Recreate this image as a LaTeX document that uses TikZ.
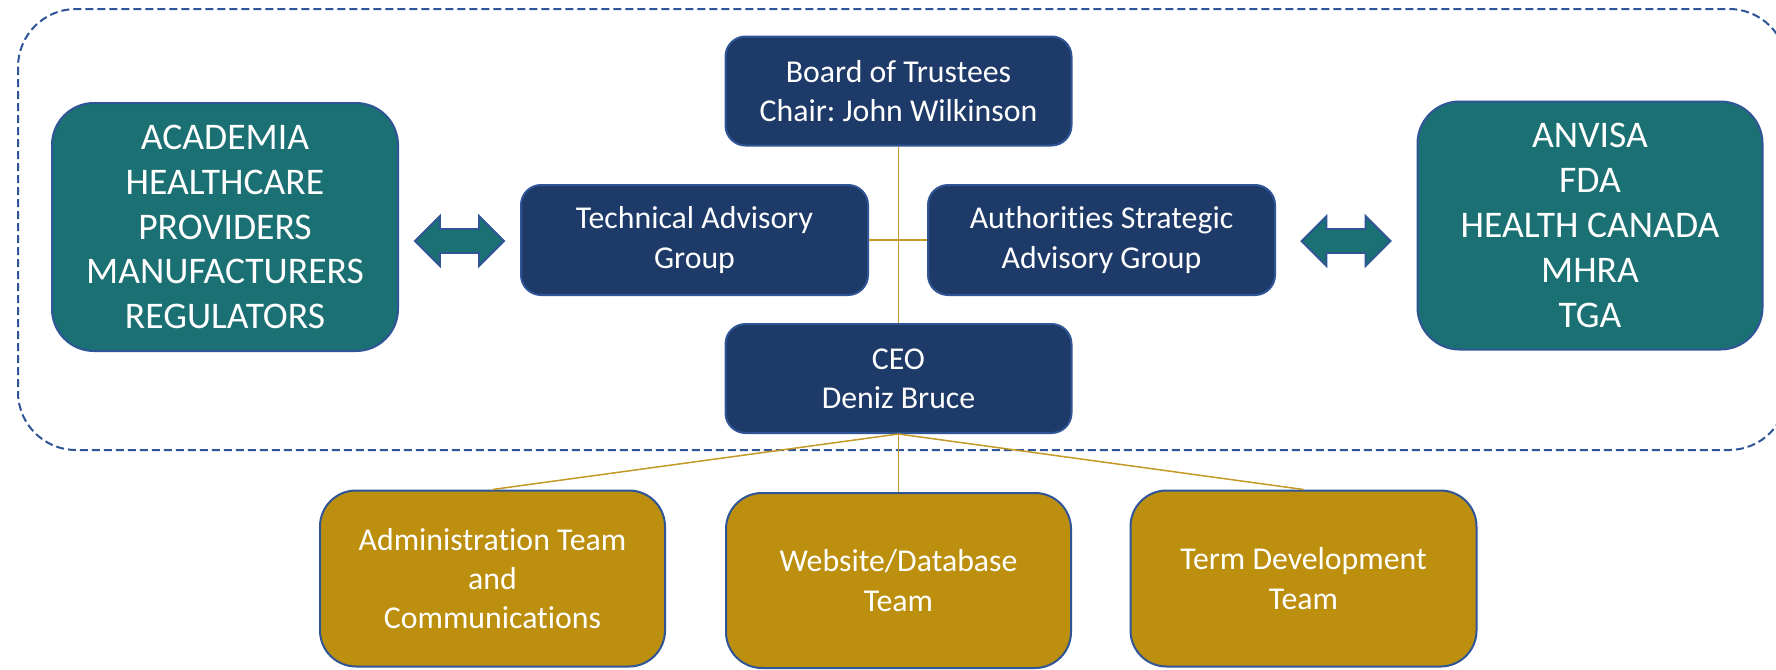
\documentclass[tikz,border=0pt]{standalone}
\usepackage{fontspec}
\setmainfont[RawFeature={-liga;-clig;-calt;-dlig}]{Carlito}
\frenchspacing
\usetikzlibrary{positioning}
\definecolor{navyfill}{RGB}{30,58,104}
\definecolor{boxedge}{RGB}{47,85,151}
\definecolor{tealfill}{RGB}{26,112,115}
\definecolor{goldfill}{RGB}{188,143,14}
\definecolor{goldline}{RGB}{196,154,38}
\tikzset{
  base/.style={draw=boxedge, line width=1pt, text=white, align=center, inner sep=0pt, font=\fontsize{15.9}{19.6}\selectfont},
  navybox/.style={base, fill=navyfill, rounded corners=10pt, minimum width=173pt, minimum height=54.5pt},
  sidebox/.style={base, fill=tealfill, rounded corners=21pt, minimum width=173pt, minimum height=124pt, font=\fontsize{18.8}{22.4}\selectfont},
  teambox/.style={base, fill=goldfill, rounded corners=18pt, minimum width=172.5pt, minimum height=88pt},
  link/.style={draw=goldline, line width=0.75pt},
  dblarrow/.style={fill=tealfill, draw=boxedge, line width=0.9pt, line join=miter},
  frame/.style={draw=boxedge, line width=1pt, dashed, dash pattern=on 4pt off 2pt, rounded corners=29pt}
}
\begin{document}
\begin{tikzpicture}[x=0.5pt, y=-0.5pt]
\useasboundingbox[fill=white] (0,0) rectangle (1776,669);
% dashed frame
\draw[frame] (18,9) rectangle (1787,450);
% nodes
\node[navybox] (board) at (898.5,91) {Board of Trustees\\Chair: John Wilkinson};
\node[navybox, minimum width=173.5pt, minimum height=55pt] (tech) at (694.5,240) {Technical Advisory\\Group};
\node[navybox, minimum width=173.5pt, minimum height=55pt] (auth) at (1101.5,240) {Authorities Strategic\\Advisory Group};
\node[navybox] (ceo) at (898.5,378.5) {CEO\\Deniz Bruce};
\node[sidebox] (left) at (225,227) {ACADEMIA\\HEALTHCARE\\PROVIDERS\\MANUFACTURERS\\REGULATORS};
\node[sidebox, minimum width=172.5pt] (right) at (1590,225.5) {ANVISA\\FDA\\HEALTH CANADA\\MHRA\\TGA};
\node[teambox] (admin) at (492.5,578.5) {Administration Team\\and\\Communications};
\node[teambox, minimum height=87.5pt] (web) at (898.5,580.5) {Website/Database\\Team};
\node[teambox, minimum width=173pt] (term) at (1303.5,578.5) {Term Development\\Team};
% connectors
\draw[link] (board.south) -- (ceo.north);
\draw[link] (tech.east) -- (auth.west);
\draw[link] (ceo.south) -- (admin.north);
\draw[link] (ceo.south) -- (web.north);
\draw[link] (ceo.south) -- (term.north);
% double arrows
\coordinate (la) at (415,241);
\coordinate (ra) at (1301.5,241);
\draw[dblarrow] (la) -- ++(25,-25) -- ++(0,13) -- ++(39,0) -- ++(0,-13) -- ++(25,25)
  -- ++(-25,25) -- ++(0,-13) -- ++(-39,0) -- ++(0,13) -- cycle;
\draw[dblarrow] (ra) -- ++(25,-25) -- ++(0,13) -- ++(39,0) -- ++(0,-13) -- ++(25,25)
  -- ++(-25,25) -- ++(0,-13) -- ++(-39,0) -- ++(0,13) -- cycle;
\end{tikzpicture}
\end{document}
